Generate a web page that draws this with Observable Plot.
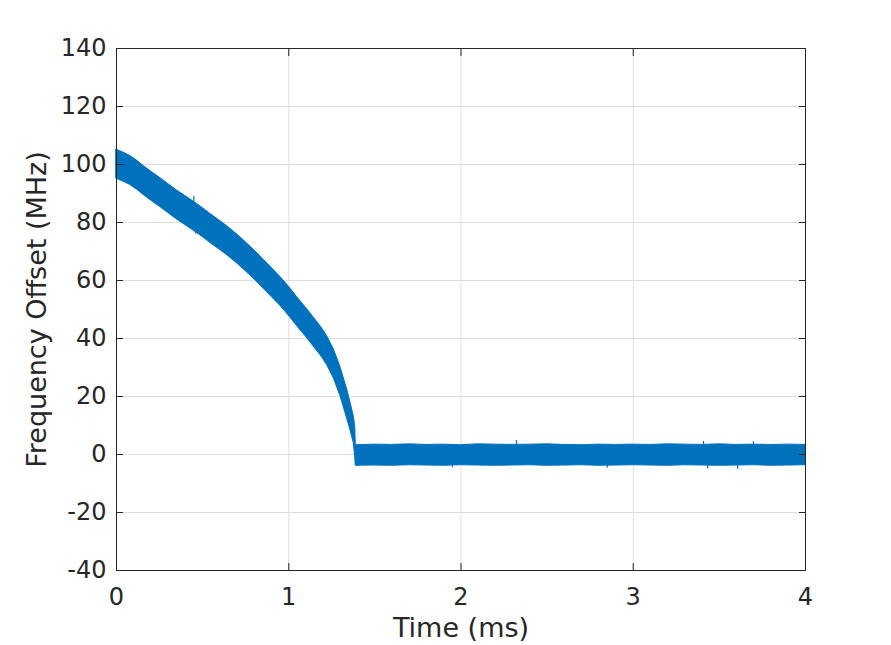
<!DOCTYPE html>
<html>
<head>
<meta charset="utf-8">
<script src="https://cdn.jsdelivr.net/npm/d3@7"></script>
<script src="https://cdn.jsdelivr.net/npm/@observablehq/plot@0.6"></script>
<style>
  html, body { margin: 0; padding: 0; background: #ffffff; }
</style>
</head>
<body>
<div id="chart"></div>
<script>
// Envelope of the noisy frequency-offset trace
const timeMs = [
  0, 0.04, 0.078, 0.12, 0.155, 0.2, 0.252, 0.3, 0.349, 0.4, 0.445, 0.5, 0.546, 0.6, 0.643,
  0.71, 0.758, 0.8, 0.855, 0.9, 0.952, 1.0, 1.049, 1.1, 1.145, 1.19, 1.223, 1.262, 1.3, 1.32,
  1.34, 1.359, 1.378, 1.386,
  1.389, 1.5, 1.6, 1.7, 1.8, 1.9, 2.0, 2.1, 2.2, 2.3, 2.4, 2.5, 2.6, 2.7, 2.8, 2.9,
  3.0, 3.1, 3.2, 3.3, 3.4, 3.5, 3.6, 3.7, 3.8, 3.9, 4.0
];
const upperMHz = [
  105.1, 104.1, 103.0, 101.3, 99.6, 97.6, 95.4, 93.3, 91.1, 89.1, 87.3, 85.0, 82.9, 80.6, 78.7,
  75.4, 72.8, 70.4, 67.1, 64.4, 61.2, 57.9, 54.2, 50.6, 47.2, 43.8, 40.8, 36.2, 30.2, 26.2,
  22.2, 17.8, 13.0, 9.5,
  3.2, 3.4, 3.3, 3.5, 3.3, 3.4, 3.2, 3.5, 3.4, 3.3, 3.4, 3.5, 3.3, 3.2, 3.4, 3.3,
  3.4, 3.3, 3.5, 3.4, 3.3, 3.5, 3.3, 3.4, 3.3, 3.4, 3.3
];
const lowerMHz = [
  95.1, 94.1, 93.0, 91.3, 89.6, 87.6, 85.4, 83.3, 81.1, 79.1, 77.3, 75.0, 72.9, 70.6, 68.7,
  65.4, 62.8, 60.4, 57.1, 54.4, 51.2, 47.9, 44.2, 40.6, 37.2, 33.8, 30.8, 26.2, 20.2, 16.2,
  12.2, 8.2, 3.8, -1.0,
  -3.9, -3.8, -3.9, -3.7, -3.8, -3.9, -3.7, -3.8, -3.9, -3.8, -3.7, -3.9, -3.8, -3.7, -3.9, -3.8,
  -3.7, -3.8, -3.9, -3.7, -3.8, -3.9, -3.8, -3.7, -3.9, -3.8, -3.7
];

// A few visible noise spikes
const spikeTime = [0.449, 0.459, 1.95, 2.322, 2.85, 3.408, 3.432, 3.606, 3.698];
const spikeLow  = [85.0, 76.0, -4.6, 0.0, -4.7, 0.0, -4.9, -5.2, 0.0];
const spikeHigh = [89.0, 80.0, 0.0, 4.8, 0.0, 4.5, 0.0, 0.0, 4.4];

const xTicks = [0, 1, 2, 3, 4];
const yTicks = [-40, -20, 0, 20, 40, 60, 80, 100, 120, 140];

const xLabel = "Time (ms)";
const yLabel = "Frequency Offset (MHz)";

const band = timeMs.map((t, i) => ({t, hi: upperMHz[i], lo: lowerMHz[i]}));
const spikes = spikeTime.map((t, i) => ({t, lo: spikeLow[i], hi: spikeHigh[i]}));

const ink = "#262626";
const blue = "#0072bd";
const fmt = d => String(d);

const chart = Plot.plot({
  width: 891,
  height: 645,
  marginLeft: 116,
  marginRight: 86,
  marginTop: 48,
  marginBottom: 75,
  style: {fontFamily: "DejaVu Sans", fontSize: "24px", color: ink, background: "#ffffff"},
  x: {domain: [0, 4]},
  y: {domain: [-40, 140]},
  marks: [
    Plot.gridX(xTicks, {stroke: "#dedede", strokeOpacity: 1}),
    Plot.gridY(yTicks, {stroke: "#dedede", strokeOpacity: 1}),
    Plot.areaY(band, {x: "t", y1: "lo", y2: "hi", fill: blue, stroke: blue, strokeWidth: 1}),
    Plot.ruleX(spikes, {x: "t", y1: "lo", y2: "hi", stroke: blue, strokeWidth: 1.2}),
    Plot.frame({stroke: ink, strokeWidth: 1}),
    Plot.axisX(xTicks, {anchor: "bottom", tickSize: -7, tickPadding: 24, tickFormat: fmt, label: null, stroke: ink, fill: ink}),
    Plot.axisX(xTicks, {anchor: "top", tickSize: -7, tickFormat: () => "", label: null, stroke: ink}),
    Plot.axisY(yTicks, {anchor: "left", tickSize: -7, tickPadding: 17, tickFormat: fmt, label: null, stroke: ink, fill: ink}),
    Plot.axisY(yTicks, {anchor: "right", tickSize: -7, tickFormat: () => "", label: null, stroke: ink}),
    Plot.text([xLabel], {frameAnchor: "bottom", dy: 58, text: d => d, fontSize: 27, fill: ink, lineAnchor: "middle", textAnchor: "middle"}),
    Plot.text([yLabel], {frameAnchor: "left", dx: -79, rotate: -90, text: d => d, fontSize: 27, fill: ink, lineAnchor: "middle", textAnchor: "middle"})
  ]
});
document.getElementById("chart").appendChild(chart);
</script>
</body>
</html>
